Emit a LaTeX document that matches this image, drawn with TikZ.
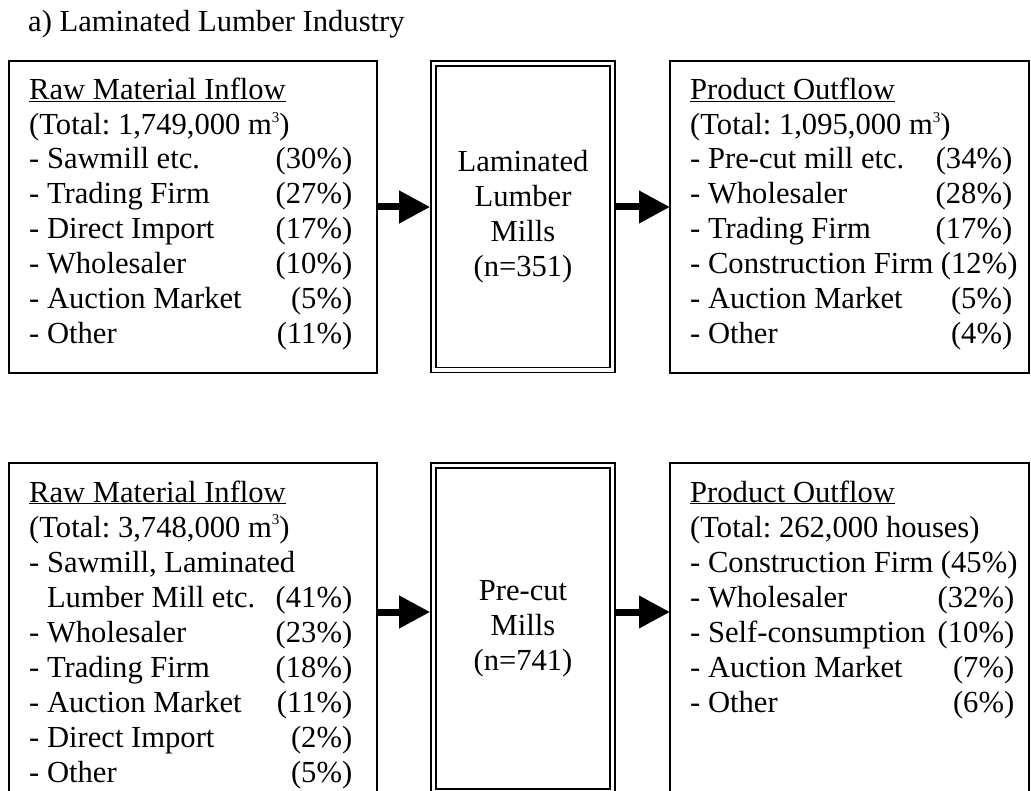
\documentclass[tikz,border=0pt]{standalone}
\usepackage{fontspec}
\setmainfont{Liberation Serif}
\frenchspacing
\usetikzlibrary{arrows.meta}
\newcommand{\cubic}{\raisebox{0.42em}{\fontsize{15}{15}\selectfont 3}}
\tikzset{
  every picture/.style={x=1pt, y=-1pt, line join=miter},
  every node/.style={inner sep=0pt, font=\fontsize{30.6}{35}\selectfont},
  listbox/.style={draw, line width=1.8pt, outer sep=0pt},
  millbox/.style={draw, double, line width=1.6pt, double distance=3.4pt, outer sep=3.3pt, align=center},
  flow/.style={line width=7pt, -{Triangle[length=31pt, width=31pt]}},
  rowtext/.style={anchor=base west},
}

\begin{document}
\begin{tikzpicture}
\useasboundingbox (0,0) rectangle (1031,791);
\clip (0,0) rectangle (1031,791);

\node[rowtext] (title) at (28,32) {a) Laminated Lumber Industry};

% upper row: laminated lumber
\node[listbox, minimum width=368pt, minimum height=312pt] (inflowA) at (193,217) {};
\node[millbox, minimum width=179pt, minimum height=306.5pt] (millA) at (523,216.75) {Laminated\\Lumber\\Mills\\(n=351)};
\node[listbox, minimum width=359pt, minimum height=312pt] (outflowA) at (849.5,217) {};
\coordinate (rowA) at (0,207);
\draw[flow] (inflowA.east |- rowA) -- (millA.west |- rowA);
\draw[flow] (millA.east |- rowA) -- (outflowA.west |- rowA);

\node[rowtext] (inHeadA) at (29,100) {\underline{Raw Material Inflow}};
\node[rowtext] (inTotA) at (29,135) {(Total: 1,749,000 m\cubic)};
\foreach \lab/\pct [count=\i] in {Sawmill etc./30, Trading Firm/27, Direct Import/17, Wholesaler/10, Auction Market/5, Other/11}{
  \node[rowtext] (inA-\i) at (29,134+35*\i) {\makebox[323pt][l]{- \lab\ \hfill(\pct\%)}};
}

\node[rowtext] (outHeadA) at (690,100) {\underline{Product Outflow}};
\node[rowtext] (outTotA) at (690,135) {(Total: 1,095,000 m\cubic)};
\foreach \lab/\pct [count=\i] in {Pre-cut mill etc./34, Wholesaler/28, Trading Firm/17, Construction Firm/12, Auction Market/5, Other/4}{
  \node[rowtext] (outA-\i) at (690,134+35*\i) {\makebox[322pt][l]{- \lab\ \hfill(\pct\%)}};
}

% lower row: pre-cut
\node[listbox, minimum width=368pt, minimum height=335pt] (inflowB) at (193,630.5) {};
\node[millbox, minimum width=179pt, minimum height=326pt] (millB) at (523,628.5) {Pre-cut\\Mills\\(n=741)};
\node[listbox, minimum width=359pt, minimum height=335pt] (outflowB) at (849.5,630.5) {};
\coordinate (rowB) at (0,612);
\draw[flow] (inflowB.east |- rowB) -- (millB.west |- rowB);
\draw[flow] (millB.east |- rowB) -- (outflowB.west |- rowB);

\node[rowtext] (inHeadB) at (29,502) {\underline{Raw Material Inflow}};
\node[rowtext] (inTotB) at (29,537) {(Total: 3,748,000 m\cubic)};
\node[rowtext] (inB-0) at (29,572) {- Sawmill, Laminated};
\foreach \lab/\pct [count=\i] in {\phantom{- }Lumber Mill etc./41, - Wholesaler/23, - Trading Firm/18, - Auction Market/11, - Direct Import/2, - Other/5}{
  \node[rowtext] (inB-\i) at (29,572+35*\i) {\makebox[323pt][l]{\lab\ \hfill(\pct\%)}};
}

\node[rowtext] (outHeadB) at (690,502) {\underline{Product Outflow}};
\node[rowtext] (outTotB) at (690,537) {(Total: 262,000 houses)};
\foreach \lab/\pct [count=\i] in {Construction Firm/45, Wholesaler/32, Self-consumption/10, Auction Market/7, Other/6}{
  \node[rowtext] (outB-\i) at (690,537+35*\i) {\makebox[324pt][l]{- \lab\ \hfill(\pct\%)}};
}
\end{tikzpicture}
\end{document}
